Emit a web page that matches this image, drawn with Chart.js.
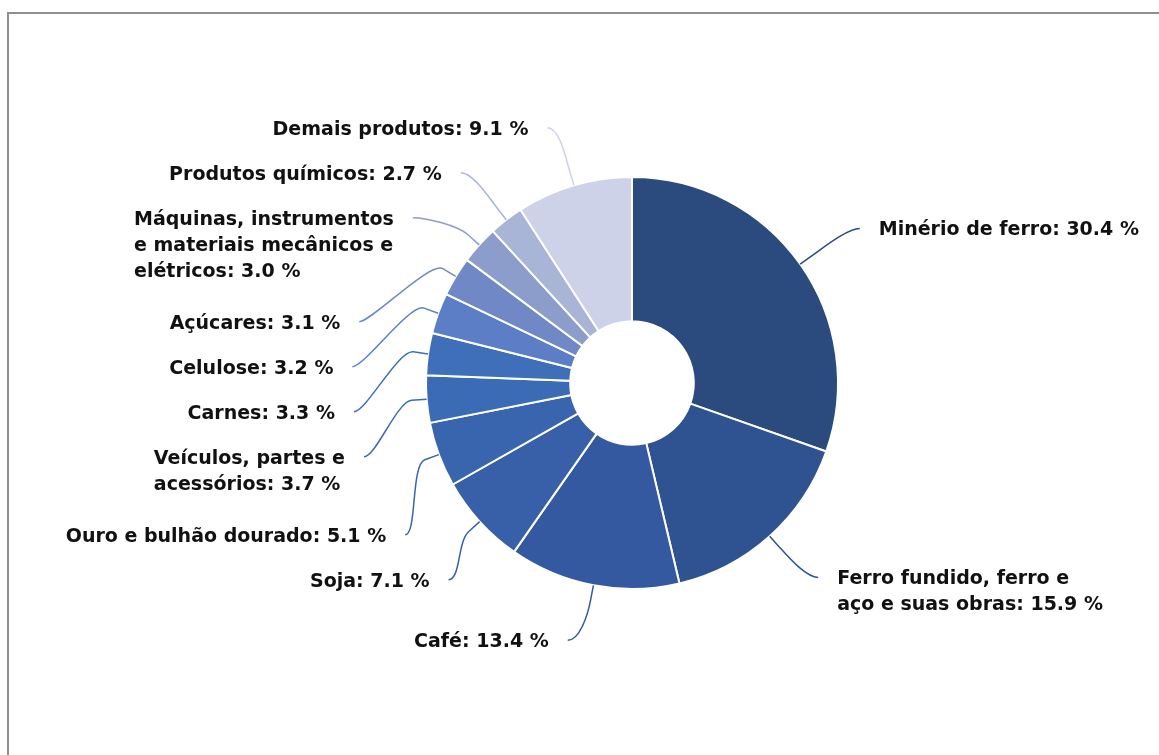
<!DOCTYPE html>
<html lang="pt-BR">
<head>
<meta charset="utf-8">
<title>Exportações</title>
<script src="https://cdn.jsdelivr.net/npm/chart.js@4.4.1/dist/chart.umd.min.js"></script>
<style>
  html, body { margin: 0; padding: 0; background: #fff; overflow: hidden; }
  #moldura { position: absolute; left: 7px; top: 12px; width: 1200px; height: 800px; border: 2px solid #8e8e8e; }
  #caixa { position: absolute; left: 0; top: 0; width: 1159px; height: 755px; }
</style>
</head>
<body>
<div id="moldura"></div>
<div id="caixa"><canvas id="grafico"></canvas></div>
<script>
// dados (% das exportações)
const categorias = [
  'Minério de ferro',
  'Ferro fundido, ferro e\naço e suas obras',
  'Café',
  'Soja',
  'Ouro e bulhão dourado',
  'Veículos, partes e\nacessórios',
  'Carnes',
  'Celulose',
  'Açúcares',
  'Máquinas, instrumentos\ne materiais mecânicos e\nelétricos',
  'Produtos químicos',
  'Demais produtos'
];
const participacao = [30.4, 15.9, 13.4, 7.1, 5.1, 3.7, 3.3, 3.2, 3.1, 3.0, 2.7, 9.1];
const cores = [
  '#2b4a7e', '#2f5290', '#3459a0', '#3760a8', '#3965ae', '#3b6bb4',
  '#3f6fb8', '#5b7ec6', '#7089c6', '#8c9dcc', '#a9b5d7', '#ced2e8'
];

// rótulos fora da rosca, com linhas de ligação curvas
const rotulosExternos = {
  id: 'rotulosExternos',
  afterDatasetsDraw(chart) {
    const ctx = chart.ctx;
    const arcos = chart.getDatasetMeta(0).data;
    if (!arcos.length) return;
    const cx = arcos[0].x, cy = arcos[0].y, r = arcos[0].outerRadius;
    const a = r + 93, b = r + 64, bNat = r + 58;
    const linha = 26, meia = 22.5, extra = 7;
    ctx.save();
    ctx.font = 'bold 19px "DejaVu Sans"';
    const itens = arcos.map((arc, i) => {
      const meio = (arc.startAngle + arc.endAngle) / 2;
      const dx = Math.cos(meio), dy = Math.sin(meio);
      const linhas = (categorias[i] + ': ' + participacao[i].toFixed(1) + ' %').split('\n');
      return {
        i, dx, dy, linhas,
        esquerda: dx < 0,
        y: cy + dy * bNat,
        largura: Math.max(...linhas.map(t => ctx.measureText(t).width))
      };
    });

    // empurra para baixo os rótulos que se sobrepõem
    [true, false].forEach(lado => {
      const grupo = itens.filter(it => it.esquerda === lado).sort((p, q) => p.y - q.y);
      let fundo = -Infinity;
      grupo.forEach(it => {
        it.y = Math.max(it.y, fundo + meia);
        const n = it.linhas.length;
        fundo = it.y + (n - 1) * linha + meia + (n > 1 ? extra : 0);
      });
    });

    itens.forEach(it => {
      const s = it.esquerda ? 1 : -1;
      const k = Math.max(0, 1 - Math.pow((it.y - cy) / b, 2));
      const xt = cx - s * a * Math.sqrt(k);
      const xe = xt + s * 19, ye = it.y - 2;
      const base = [cx + it.dx * r, cy + it.dy * r];
      const quebra = [cx + it.dx * (r + 15), cy + it.dy * (r + 15)];
      const ctrl = [cx + it.dx * (r + 30), cy + it.dy * (r + 30)];

      ctx.beginPath();
      ctx.moveTo(xe, ye);
      ctx.bezierCurveTo(xe + s * 12, ye, ctrl[0], ctrl[1], quebra[0], quebra[1]);
      ctx.lineTo(base[0], base[1]);
      ctx.strokeStyle = cores[it.i];
      ctx.lineWidth = 1.5;
      ctx.stroke();

      ctx.fillStyle = '#111111';
      ctx.textAlign = 'left';
      ctx.textBaseline = 'middle';
      const x0 = it.esquerda ? xt - it.largura : xt;
      it.linhas.forEach((t, j) => ctx.fillText(t, x0, it.y + j * linha));
    });
    ctx.restore();
  }
};

new Chart(document.getElementById('grafico'), {
  type: 'doughnut',
  data: {
    labels: categorias,
    datasets: [{
      data: participacao,
      backgroundColor: cores,
      borderColor: '#ffffff',
      borderWidth: 2
    }]
  },
  options: {
    responsive: true,
    maintainAspectRatio: false,
    animation: false,
    cutout: '30%',
    layout: { padding: { top: 176, bottom: 165, left: 105, right: 0 } },
    plugins: {
      legend: { display: false },
      tooltip: { enabled: false }
    }
  },
  plugins: [rotulosExternos]
});
</script>
</body>
</html>
